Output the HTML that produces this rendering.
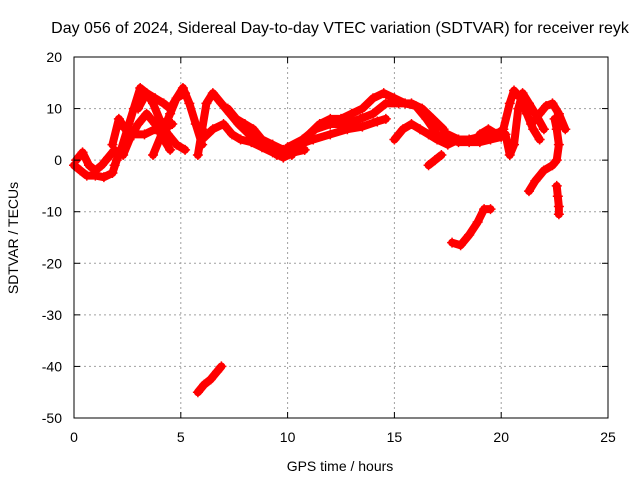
<!DOCTYPE html>
<html><head><meta charset="utf-8"><style>
body{margin:0;background:#fff}
svg{display:block;font-family:"Liberation Sans",sans-serif}
</style></head><body>
<svg id="chart" width="640" height="480">
<text x="340" y="33" text-anchor="middle" font-size="16">Day 056 of 2024, Sidereal Day-to-day VTEC variation (SDTVAR) for receiver reyk</text>
<text x="340" y="471" text-anchor="middle" font-size="14">GPS time / hours</text>
<text x="18" y="238" text-anchor="middle" font-size="14" transform="rotate(-90 18 238)">SDTVAR / TECUs</text>
<g id="grid"></g><g id="marks"></g><g id="axes"></g>
</svg>
<script>
const xTicks=[0,5,10,15,20,25];
const yTicks=[-50,-40,-30,-20,-10,0,10,20];
const trackA=[[0,-1],[0.3,-2],[0.6,-3],[1,-3],[1.4,-3.3],[1.8,-2.5],[2,0],[2.1,1]];
const trackA2=[[0.1,0],[0.4,1.5],[0.7,-1],[1,-2],[1.3,-1],[1.6,0.5],[1.9,2]];
const trackB=[[1.9,-1],[2.2,2],[2.5,6],[2.8,10],[3.1,14],[3.4,13],[3.7,11],[4,8],[4.4,5],[4.8,3],[5.2,2]];
const trackC=[[1.8,3],[2.1,8],[2.4,6],[2.8,5],[3.3,5],[3.8,6],[4.2,6],[4.6,7]];
const trackC2=[[2.3,1],[2.6,4],[3,7],[3.4,9],[3.8,7],[4.2,4],[4.5,2]];
const trackD=[[3.7,1],[4.1,5],[4.5,9],[4.8,12],[5.1,14],[5.4,11],[5.7,7],[6,3]];
const trackE=[[3,10],[3.4,13],[3.8,12],[4.2,11],[4.5,10],[4.8,12],[5.2,13]];
const trackF=[[5.8,1],[6,6],[6.2,11],[6.5,13],[6.9,11],[7.3,9],[7.7,7],[8.2,5],[8.7,4],[9.2,3],[9.7,1.5],[10.2,1]];
const trackG=[[6,4],[6.5,6],[7,7],[7.4,5],[7.8,4],[8.3,3.5],[8.8,2.5],[9.3,1.5],[9.8,0.5],[10.3,1.5],[10.8,2]];
const trackG2=[[7.2,10],[7.6,8],[8,7],[8.4,6],[8.8,4],[9.3,3],[9.8,2]];
const trackH=[[9.5,1],[10,2],[10.5,3],[11,5],[11.5,7],[12,8],[12.5,8],[13,9],[13.5,10],[14,12],[14.5,13],[15,12],[15.5,11],[16,10.5],[16.5,8],[17,5],[17.5,4],[18,3.5],[18.5,3.5],[19,3.5],[19.5,4],[20,4.5]];
const trackI=[[10,2.5],[10.7,4],[11.3,6],[12,7],[12.7,7],[13.4,8],[14,9],[14.6,11],[15.2,11],[15.8,11],[16.3,10],[16.8,8],[17.3,6]];
const trackJ=[[10.5,3],[11.2,4],[12,5],[12.8,6],[13.5,6.5],[14.2,7.5],[14.6,8]];
const trackK=[[15,4],[15.4,6],[15.8,7],[16.2,6],[16.6,5],[17,4],[17.5,3],[18,4]];
const trackK2=[[17.5,5],[18,4],[18.5,4],[19,4.5],[19.5,5],[20,5.5]];
const trackL=[[16.6,-1],[16.9,0],[17.2,1]];
const trackM=[[17.7,-16],[18.1,-16.5],[18.5,-14.5],[18.9,-12],[19.2,-9.5],[19.5,-9.5]];
const trackN=[[19,5],[19.4,6],[19.8,5],[20.1,6],[20.4,11],[20.6,13.5],[20.9,12],[21.2,9],[21.5,6],[21.8,4]];
const trackO=[[20.2,5],[20.4,1],[20.6,3],[20.8,10],[21,13],[21.3,11],[21.6,9],[22,6]];
const trackP=[[21.4,7],[21.8,9],[22.1,10.5],[22.4,11],[22.7,9],[23,6]];
const trackQ=[[21.3,-6],[21.6,-4],[22,-2],[22.4,-1],[22.6,0],[22.7,3],[22.6,6],[22.5,8]];
const trackR=[[22.6,-5],[22.65,-7],[22.7,-9],[22.7,-10.5]];
const trackS=[[5.8,-45],[6.1,-43.5],[6.4,-42.5],[6.7,-41],[6.9,-40]];
const tracks=[trackA,trackA2,trackB,trackC,trackC2,trackD,trackE,trackF,trackG,trackG2,trackH,trackI,trackJ,trackK,trackK2,trackL,trackM,trackN,trackO,trackP,trackQ,trackR,trackS];
const X0=74,X1=608,Y0=418,Y1=57;
const xs=t=>X0+(t-0)/(25-0)*(X1-X0);
const ys=v=>Y0-(v+50)/70*(Y0-Y1);
const NS="http://www.w3.org/2000/svg";
const grid=document.getElementById('grid'),axes=document.getElementById('axes'),marks=document.getElementById('marks');
function mk(tag,attrs,parent){const e=document.createElementNS(NS,tag);for(const k in attrs)e.setAttribute(k,attrs[k]);parent.appendChild(e);return e;}
xTicks.forEach(t=>{const x=xs(t);
 if(t>0&&t<25){const g=mk('line',{x1:x,x2:x,y1:Y1,y2:Y0,stroke:'#a0a0a0','stroke-dasharray':'2,3'},grid);
 
 }
 mk('line',{x1:x,x2:x,y1:Y0,y2:Y0-6,stroke:'#000'},axes);mk('line',{x1:x,x2:x,y1:Y1,y2:Y1+6,stroke:'#000'},axes);
 const l=mk('text',{x:x,y:Y0+24,'text-anchor':'middle','font-size':14},axes);l.textContent=t;
 
 });
yTicks.forEach(v=>{const y=ys(v);
 if(v>-50&&v<20){const g=mk('line',{x1:X0,x2:X1,y1:y,y2:y,stroke:'#a0a0a0','stroke-dasharray':'2,3'},grid);
 
 }
 mk('line',{x1:X0,x2:X0+6,y1:y,y2:y,stroke:'#000'},axes);mk('line',{x1:X1,x2:X1-6,y1:y,y2:y,stroke:'#000'},axes);
 const l=mk('text',{x:X0-12,y:y+5,'text-anchor':'end','font-size':14},axes);l.textContent=v;
 
 });
const fr=mk('rect',{x:X0,y:Y1,width:X1-X0,height:Y0-Y1,fill:'none',stroke:'#000'},axes);


tracks.forEach(tr=>{
 const p=mk('polyline',{points:tr.map(d=>xs(d[0])+','+ys(d[1])).join(' '),fill:'none',stroke:'#ff0000','stroke-width':8,'stroke-linejoin':'round','stroke-linecap':'round'},marks);
 
 
 tr.forEach(d=>{const x=xs(d[0]),y=ys(d[1]);
  const m=mk('path',{d:`M${x-5},${y}H${x+5}M${x},${y-5}V${y+5}`,stroke:'#ff0000','stroke-width':1.5},marks);
  
  });
});
</script>
</body></html>
